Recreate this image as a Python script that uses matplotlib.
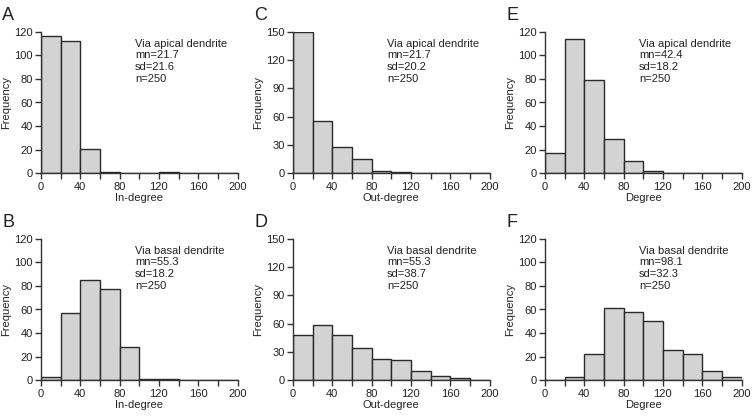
import numpy as np
import matplotlib
matplotlib.use("Agg")
import matplotlib.pyplot as plt
from matplotlib.ticker import MultipleLocator

plt.rcParams['font.family'] = ['Liberation Sans', 'DejaVu Sans']

# bin edges shared by all panels (width 20)
bin_edges = np.arange(0, 201, 20)

# counts per bin
in_apical = [116, 112, 21, 1, 0, 0, 1, 0, 0, 0]
in_basal = [3, 57, 85, 77, 28, 1, 1, 0, 0, 0]
out_apical = [150, 55, 28, 15, 2, 1, 0, 0, 0, 0]
out_basal = [48, 59, 48, 34, 23, 21, 10, 5, 2, 0]
deg_apical = [17, 114, 79, 29, 10, 2, 0, 0, 0, 0]
deg_basal = [0, 3, 22, 61, 58, 50, 26, 22, 8, 3]

letters = ['A', 'B', 'C', 'D', 'E', 'F']
xlabels = ['In-degree', 'In-degree', 'Out-degree', 'Out-degree', 'Degree', 'Degree']
series = [in_apical, in_basal, out_apical, out_basal, deg_apical, deg_basal]
ymax = [120, 120, 150, 150, 120, 120]
ystep = [20, 20, 30, 30, 20, 20]
stats = [
    ("Via apical dendrite", 21.7, 21.6, 250),
    ("Via basal dendrite", 55.3, 18.2, 250),
    ("Via apical dendrite", 21.7, 20.2, 250),
    ("Via basal dendrite", 55.3, 38.7, 250),
    ("Via apical dendrite", 42.4, 18.2, 250),
    ("Via basal dendrite", 98.1, 32.3, 250),
]

W, H = 756, 419
fig = plt.figure(figsize=(W / 100, H / 100), dpi=100)

col_left = [41, 293, 545]
row_top = [31.7, 238.7]
ax_w, ax_h = 196.5, 141.6
txt = '#222222'

for i in range(6):
    col, row = i // 2, i % 2
    ax = fig.add_axes([col_left[col] / W, 1 - (row_top[row] + ax_h) / H, ax_w / W, ax_h / H])
    ax.bar(bin_edges[:-1], series[i], width=20, align='edge',
           color='#d3d3d3', edgecolor='#2a2a2a', linewidth=1.0, zorder=2)
    ax.set_xlim(0, 200)
    ax.set_ylim(0, ymax[i])
    ax.xaxis.set_major_locator(MultipleLocator(40))
    ax.xaxis.set_minor_locator(MultipleLocator(20))
    ax.yaxis.set_major_locator(MultipleLocator(ystep[i]))
    for s in ['top', 'right']:
        ax.spines[s].set_visible(False)
    for s in ['left', 'bottom']:
        ax.spines[s].set_color('#333333')
        ax.spines[s].set_linewidth(1.0)
        ax.spines[s].set_zorder(3)
    ax.tick_params(which='both', direction='out', length=4, width=1.0,
                   color='#333333', labelsize=8, labelcolor=txt, pad=2)
    ax.set_xlabel(xlabels[i], fontsize=8, color=txt, labelpad=1)
    ax.set_ylabel('Frequency', fontsize=8, color=txt, labelpad=2)
    name, mn, sd, n = stats[i]
    ax.text(0.478, 0.95, f"{name}\nmn={mn}\nsd={sd}\nn={n}", transform=ax.transAxes,
            ha='left', va='top', fontsize=8, color=txt, linespacing=1.2)
    fig.text((col_left[col] - 39) / W, 1 - (row_top[row] - 25) / H, letters[i],
             fontsize=13, color=txt, ha='left', va='top')

fig.savefig('out.png', dpi=100)
